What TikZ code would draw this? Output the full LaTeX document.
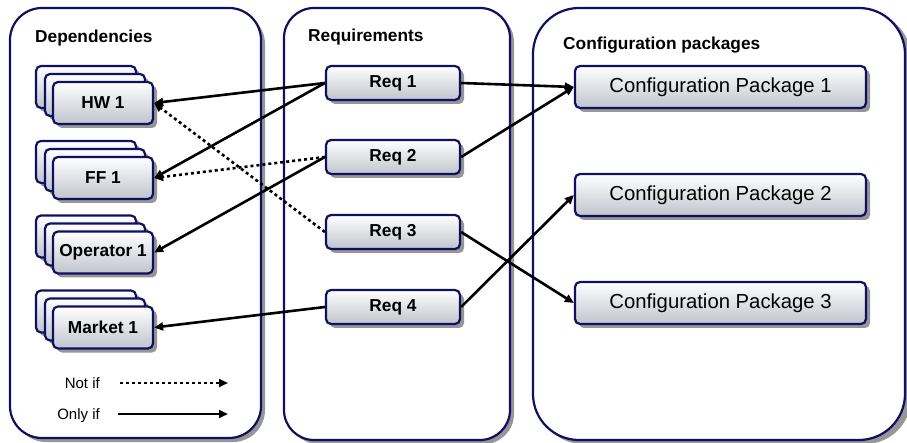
\documentclass[tikz,border=0pt]{standalone}
\usepackage{fontspec}
\setmainfont{Liberation Sans}
\usetikzlibrary{shadows,arrows.meta}
\definecolor{navy}{RGB}{16,16,96}
\definecolor{shadowgray}{RGB}{150,150,150}
\definecolor{boxbottom}{RGB}{192,196,204}
\tikzset{
  x=1pt, y=-1pt,
  container/.style={draw=navy, line width=2.2pt, fill=white},
  contshadow/.style={fill=shadowgray},
  box/.style={draw=navy, line width=2.2pt, rounded corners=5pt,
    top color=white, bottom color=boxbottom, inner sep=0pt,
    drop shadow={shadow xshift=4pt, shadow yshift=-4pt, fill=shadowgray, opacity=1}},
  depbox/.style={box, minimum width=100pt, minimum height=42pt,
    font=\fontsize{17.3}{20}\selectfont\bfseries},
  reqbox/.style={box, minimum width=134pt, minimum height=34pt,
    font=\fontsize{17.3}{20}\selectfont\bfseries},
  cpbox/.style={box, minimum width=291pt, minimum height=42pt,
    font=\fontsize{20.3}{23}\selectfont},
  title/.style={anchor=base west, inner sep=0pt, font=\fontsize{17.3}{20}\selectfont\bfseries},
  legendtext/.style={anchor=base east, inner sep=0pt, font=\fontsize{15}{18}\selectfont},
  onlyif/.style={line width=2.6pt, -{Triangle[length=9pt,width=8pt]}},
  notif/.style={line width=2.6pt, dash pattern=on 3pt off 3pt, -{Triangle[length=9pt,width=8pt]}},
}
\newcommand{\depstack}[3]{%
  \node[depbox] at (86,#2-16) {};
  \node[depbox] at (95,#2-8) {};
  \node[depbox] (#1) at (103,#2) {#3};
}
\begin{document}
\begin{tikzpicture}
\useasboundingbox (0,0) rectangle (907,443);
% containers
\fill[contshadow, rounded corners=32pt] (14,12) rectangle (265,442);
\draw[container, rounded corners=32pt] (10,8) rectangle (261,438);
\fill[contshadow, rounded corners=30pt] (288,12) rectangle (514,444);
\draw[container, rounded corners=30pt] (284,8) rectangle (510,440);
\fill[contshadow, rounded corners=46pt] (537,12) rectangle (911,444);
\draw[container, rounded corners=46pt] (533,8) rectangle (905,440);
% titles
\node[title] (tdep) at (35,43) {Dependencies};
\node[title] (treq) at (308,42) {Requirements};
\node[title] (tcp) at (563,50) {Configuration packages};
% dependency stacks
\depstack{hw}{103}{HW 1}
\depstack{ff}{178}{FF 1}
\depstack{op}{252.5}{Operator 1}
\depstack{mk}{327.5}{Market 1}
% requirements
\node[reqbox] (r1) at (393,83) {Req 1};
\node[reqbox] (r2) at (393,157) {Req 2};
\node[reqbox] (r3) at (393,232) {Req 3};
\node[reqbox] (r4) at (393,307) {Req 4};
% configuration packages
\node[cpbox] (c1) at (720.5,87) {Configuration Package 1};
\node[cpbox] (c2) at (720.5,195) {Configuration Package 2};
\node[cpbox] (c3) at (720.5,303) {Configuration Package 3};
% connectors left
\draw[onlyif] (r1.west) -- (hw.east);
\draw[onlyif] (r1.west) -- (ff.east);
\draw[notif] (r2.west) -- (ff.east);
\draw[onlyif] (r2.west) -- (op.east);
\draw[notif] (r3.west) -- (hw.east);
\draw[onlyif] (r4.west) -- (mk.east);
% connectors right
\draw[onlyif] (r1.east) -- (c1.west);
\draw[onlyif] (r2.east) -- (c1.west);
\draw[onlyif] (r3.east) -- (c3.west);
\draw[onlyif] (r4.east) -- (c2.west);
% legend
\node[legendtext] (lnot) at (100,388) {Not if};
\node[legendtext] (lonly) at (100,419) {Only if};
\coordinate (n1) at (120,383);
\coordinate (n2) at (228,383);
\coordinate (o1) at (118,414);
\coordinate (o2) at (228,414);
\draw[notif] (n1) -- (n2);
\draw[onlyif] (o1) -- (o2);
\end{tikzpicture}
\end{document}
